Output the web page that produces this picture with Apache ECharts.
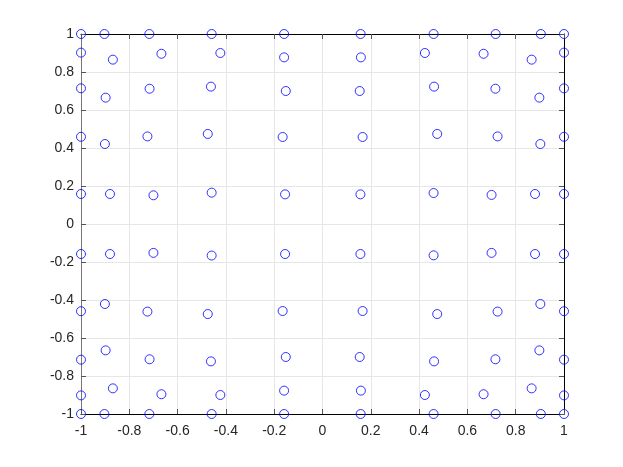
<!DOCTYPE html>
<html>
<head>
<meta charset="utf-8">
<script src="https://cdn.jsdelivr.net/npm/echarts@6/dist/echarts.min.js"></script>
<style>html,body{margin:0;padding:0;background:#fff;}#c{width:623px;height:467px;}</style>
</head>
<body>
<div id="c"></div>
<script>
// Tick labels
const xTicks = [-1, -0.8, -0.6, -0.4, -0.2, 0, 0.2, 0.4, 0.6, 0.8, 1];
const yTicks = [-1, -0.8, -0.6, -0.4, -0.2, 0, 0.2, 0.4, 0.6, 0.8, 1];

// Point coordinates, row by row (top to bottom)
const xRow1 = [-1, -0.903, -0.717, -0.459, -0.159, 0.158, 0.460, 0.717, 0.904, 1];
const yRow1 = [1, 1, 1, 1, 1, 1, 1, 1, 1, 1];
const xRow2 = [-1, -0.868, -0.667, -0.423, -0.159, 0.159, 0.424, 0.667, 0.866, 1];
const yRow2 = [0.902, 0.865, 0.896, 0.900, 0.877, 0.877, 0.900, 0.896, 0.865, 0.902];
const xRow3 = [-1, -0.898, -0.716, -0.462, -0.152, 0.154, 0.462, 0.716, 0.898, 1];
const yRow3 = [0.714, 0.665, 0.712, 0.723, 0.700, 0.700, 0.723, 0.712, 0.665, 0.714];
const xRow4 = [-1, -0.901, -0.725, -0.475, -0.165, 0.166, 0.475, 0.725, 0.902, 1];
const yRow4 = [0.459, 0.421, 0.461, 0.474, 0.458, 0.458, 0.474, 0.461, 0.421, 0.459];
const xRow5 = [-1, -0.880, -0.700, -0.459, -0.155, 0.157, 0.460, 0.700, 0.880, 1];
const yRow5 = [0.158, 0.158, 0.151, 0.165, 0.156, 0.156, 0.163, 0.153, 0.158, 0.158];
const xRow6 = [-1, -0.880, -0.700, -0.459, -0.155, 0.157, 0.460, 0.700, 0.880, 1];
const yRow6 = [-0.158, -0.158, -0.152, -0.166, -0.158, -0.158, -0.165, -0.152, -0.158, -0.158];
const xRow7 = [-1, -0.901, -0.725, -0.475, -0.165, 0.166, 0.475, 0.725, 0.902, 1];
const yRow7 = [-0.459, -0.421, -0.461, -0.474, -0.458, -0.458, -0.474, -0.461, -0.421, -0.459];
const xRow8 = [-1, -0.898, -0.716, -0.462, -0.152, 0.154, 0.462, 0.716, 0.898, 1];
const yRow8 = [-0.714, -0.665, -0.712, -0.723, -0.700, -0.700, -0.723, -0.712, -0.665, -0.714];
const xRow9 = [-1, -0.868, -0.667, -0.423, -0.159, 0.159, 0.424, 0.667, 0.866, 1];
const yRow9 = [-0.902, -0.865, -0.896, -0.900, -0.877, -0.877, -0.900, -0.896, -0.865, -0.902];
const xRow10 = [-1, -0.903, -0.717, -0.459, -0.159, 0.158, 0.460, 0.717, 0.904, 1];
const yRow10 = [-1, -1, -1, -1, -1, -1, -1, -1, -1, -1];

const xRows = [xRow1, xRow2, xRow3, xRow4, xRow5, xRow6, xRow7, xRow8, xRow9, xRow10];
const yRows = [yRow1, yRow2, yRow3, yRow4, yRow5, yRow6, yRow7, yRow8, yRow9, yRow10];
const points = [];
xRows.forEach((xr, i) => xr.forEach((x, j) => points.push([x, yRows[i][j]])));

const FONT = '"Liberation Sans", Arial, sans-serif';
const fmt = v => {
  const r = Math.round(v * 10) / 10;
  return String(r);
};
const common = {
  min: -1, max: 1, interval: 0.2,
  axisTick: { show: true, inside: true, length: 5, lineStyle: { color: '#555', width: 1 } },
};

const chart = echarts.init(document.getElementById('c'), null, { renderer: 'canvas' });
chart.setOption({
  animation: false,
  backgroundColor: '#ffffff',
  grid: { left: 81, right: 59, top: 34, bottom: 53, containLabel: false },
  xAxis: [
    Object.assign({}, common, {
      type: 'value', position: 'bottom',
      axisLine: { show: true, onZero: false, lineStyle: { color: '#000', width: 1 } },
      axisLabel: { show: true, margin: 10, fontSize: 14, color: '#262626', fontFamily: FONT, formatter: fmt, showMinLabel: true, showMaxLabel: true },
      splitLine: { show: true, lineStyle: { color: '#e6e6e6', width: 1 } }
    }),
    Object.assign({}, common, {
      type: 'value', position: 'top',
      axisLine: { show: true, onZero: false, lineStyle: { color: '#000', width: 1 } },
      axisLabel: { show: false },
      splitLine: { show: false }
    })
  ],
  yAxis: [
    Object.assign({}, common, {
      type: 'value', position: 'left',
      axisLine: { show: true, onZero: false, lineStyle: { color: '#777', width: 1 } },
      axisLabel: { show: true, margin: 7, fontSize: 14, color: '#262626', fontFamily: FONT, formatter: fmt, showMinLabel: true, showMaxLabel: true },
      splitLine: { show: true, lineStyle: { color: '#e6e6e6', width: 1 } }
    }),
    Object.assign({}, common, {
      type: 'value', position: 'right',
      axisLine: { show: true, onZero: false, lineStyle: { color: '#000', width: 1 } },
      axisLabel: { show: false },
      splitLine: { show: false }
    })
  ],
  series: [{
    type: 'scatter',
    xAxisIndex: 0, yAxisIndex: 0,
    data: points,
    symbol: 'circle',
    symbolSize: 9,
    itemStyle: { color: 'rgba(0,0,0,0)', borderColor: '#0000ff', borderWidth: 1 },
    clip: false,
    z: 5
  }]
});
</script>
</body>
</html>
